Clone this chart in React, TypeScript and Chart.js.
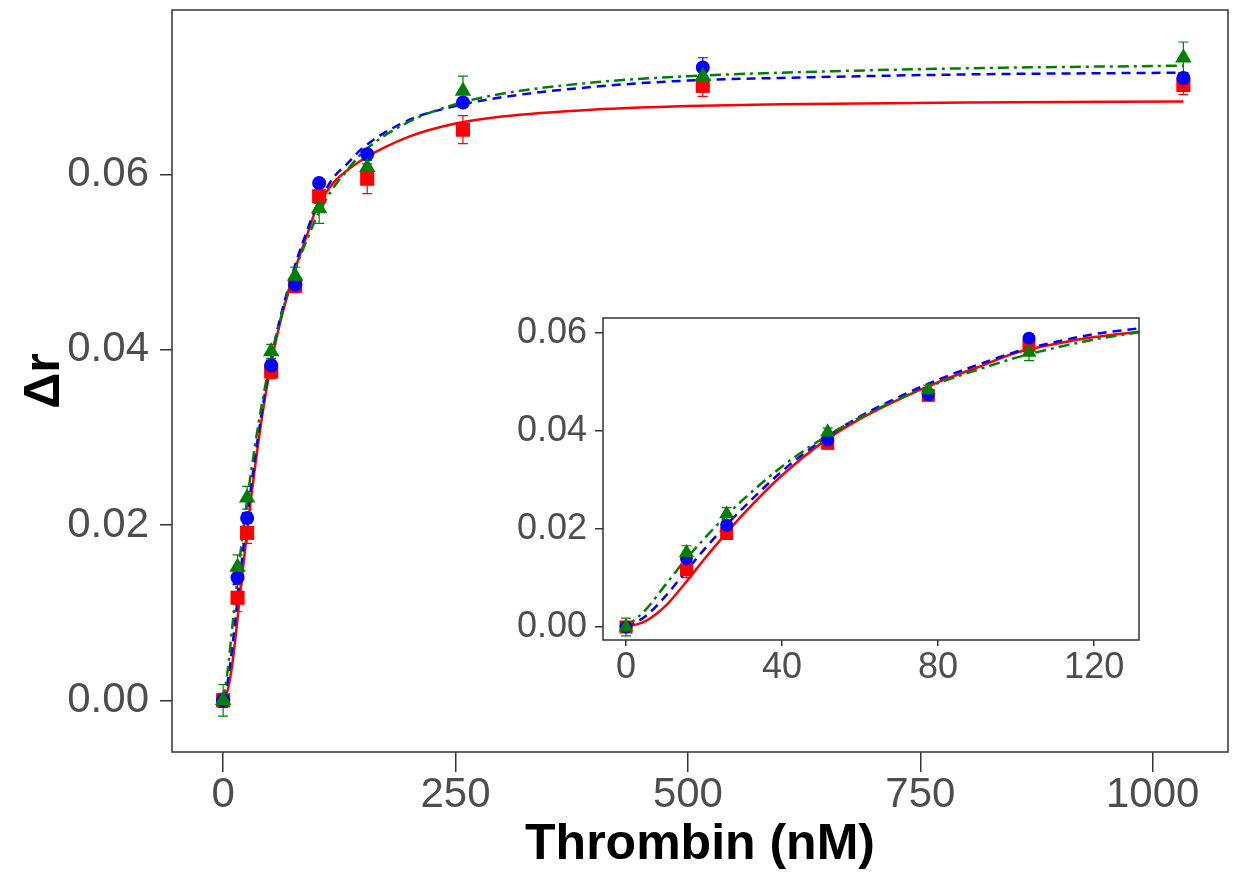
import React, { useEffect, useRef } from "react";
import { Chart, registerables } from "chart.js";

Chart.register(...registerables);

// ---- data ----
const thrombin = [0, 15.5, 25.8, 51.7, 77.5, 103.3, 155, 258, 516, 1033];
const redY = [0, 0.0117, 0.0191, 0.0375, 0.0473, 0.0575, 0.0595, 0.0651, 0.0701, 0.0702];
const redErr = [0.0005, 0.0016, 0.0012, 0.0008, 0.0008, 0.0008, 0.0017, 0.0016, 0.0012, 0.0011];
const blueY = [0, 0.014, 0.0208, 0.0382, 0.0474, 0.059, 0.0623, 0.0682, 0.0722, 0.071];
const blueErr = [0.0008, 0.0008, 0.0006, 0.0006, 0.0006, 0.0005, 0.0004, 0.0005, 0.0011, 0.0006];
const greenY = [0, 0.0152, 0.0231, 0.0398, 0.0484, 0.0561, 0.0608, 0.0695, 0.0712, 0.0733];
const greenErr = [0.0018, 0.0014, 0.0013, 0.0008, 0.001, 0.0017, 0.0008, 0.0017, 0.0008, 0.0018];

const fitX = [0, 5, 10, 15, 20, 25, 30, 40, 50, 60, 70, 80, 90, 100, 110, 120, 131.5, 150, 200, 250, 300, 400, 500, 600, 800, 1033];
const redFit = [0, 0.0012, 0.0042, 0.0088, 0.0138, 0.0185, 0.023, 0.031, 0.0375, 0.0425, 0.0465, 0.05, 0.053, 0.056, 0.0578, 0.0592, 0.0603, 0.0617, 0.0643, 0.0658, 0.0666, 0.0674, 0.0678, 0.068, 0.0682, 0.0683];
const blueFit = [0, 0.0022, 0.0062, 0.011, 0.0158, 0.0202, 0.0243, 0.0318, 0.038, 0.043, 0.047, 0.0505, 0.0535, 0.0562, 0.0582, 0.0598, 0.061, 0.063, 0.0662, 0.0678, 0.0688, 0.07, 0.0707, 0.071, 0.0714, 0.0716];
const greenFit = [0, 0.0035, 0.0085, 0.0135, 0.018, 0.0222, 0.026, 0.0328, 0.0383, 0.0428, 0.0466, 0.0498, 0.0525, 0.055, 0.057, 0.0587, 0.0602, 0.0625, 0.066, 0.068, 0.0692, 0.0705, 0.0712, 0.0716, 0.0721, 0.0724];

const mainXTicks = [0, 250, 500, 750, 1000];
const mainYTicks = [0, 0.02, 0.04, 0.06];
const insetXTicks = [0, 40, 80, 120];
const insetYTicks = [0, 0.02, 0.04, 0.06];
const insetXMax = 131.5;

const RED = "#ff0000";
const BLUE = "#0000ff";
const GREEN = "#008000";
const FONT = "'Liberation Sans', Arial, sans-serif";

// ---- plugins ----
const boxPlugin = {
  id: "box",
  afterDatasetsDraw(chart: any) {
    const { ctx, chartArea: a } = chart;
    ctx.save();
    ctx.strokeStyle = "#333333";
    ctx.lineWidth = 1.5;
    ctx.strokeRect(a.left, a.top, a.right - a.left, a.bottom - a.top);
    ctx.restore();
  },
};

const errorBarPlugin = {
  id: "errbars",
  beforeDatasetsDraw(chart: any) {
    const { ctx } = chart;
    const ys = chart.scales.y;
    chart.data.datasets.forEach((ds: any, i: number) => {
      if (!ds.errs) return;
      const meta = chart.getDatasetMeta(i);
      ctx.save();
      ctx.strokeStyle = ds.borderColor;
      ctx.lineWidth = 1.2;
      meta.data.forEach((el: any, j: number) => {
        const v = ds.data[j].y;
        const e = ds.errs[j];
        const x = el.x;
        const y1 = ys.getPixelForValue(v - e);
        const y2 = ys.getPixelForValue(v + e);
        const cw = ds.capW;
        ctx.beginPath();
        ctx.moveTo(x, y1);
        ctx.lineTo(x, y2);
        ctx.moveTo(x - cw, y1);
        ctx.lineTo(x + cw, y1);
        ctx.moveTo(x - cw, y2);
        ctx.lineTo(x + cw, y2);
        ctx.stroke();
      });
      ctx.restore();
    });
  },
};

function pts(xs: number[], ys: number[], maxX = Infinity) {
  const out: { x: number; y: number }[] = [];
  xs.forEach((x, i) => {
    if (x <= maxX) out.push({ x, y: ys[i] });
  });
  return out;
}

function zeroPad(ax: any) {
  ax.paddingTop = 0;
  ax.paddingBottom = 0;
  ax.paddingLeft = 0;
  ax.paddingRight = 0;
}

function buildConfig(p: any) {
  const ms = p.markerScale;
  const curve = (ys: number[], color: string, dash: number[], order: number) => ({
    type: "line",
    data: pts(fitX, ys, p.xMax),
    borderColor: color,
    borderWidth: 2.5,
    borderDash: dash,
    pointRadius: 0,
    showLine: true,
    fill: false,
    cubicInterpolationMode: "monotone",
    order,
  });
  const points = (ys: number[], errs: number[], color: string, style: string, r: number, order: number) => ({
    type: "scatter",
    data: pts(thrombin, ys, p.xMax),
    errs: thrombin.filter((x) => x <= p.xMax).map((_, i) => errs[i]),
    capW: p.capW,
    borderColor: color,
    backgroundColor: color,
    pointStyle: style,
    pointRadius: r * ms,
    pointBorderWidth: 0,
    showLine: false,
    order,
  });
  return {
    type: "scatter",
    data: {
      datasets: [
        points(greenY, greenErr, GREEN, "triangle", 9.5, 0),
        points(blueY, blueErr, BLUE, "circle", 7, 1),
        points(redY, redErr, RED, "rect", 10, 2),
        curve(greenFit, GREEN, [11, 5, 3, 5], 3),
        curve(blueFit, BLUE, [9, 6], 4),
        curve(redFit, RED, [], 5),
      ],
    },
    options: {
      animation: false,
      responsive: false,
      devicePixelRatio: 1,
      events: [],
      layout: { padding: p.padding },
      plugins: { legend: { display: false }, tooltip: { enabled: false } },
      scales: {
        x: {
          type: "linear",
          min: p.xMin,
          max: p.xMax,
          afterBuildTicks: (ax: any) => {
            ax.ticks = p.xTicks.map((v: number) => ({ value: v }));
          },
          afterFit: (ax: any) => {
            ax.height = p.xHeight;
            zeroPad(ax);
          },
          grid: {
            drawOnChartArea: false,
            drawTicks: true,
            tickLength: p.xTickLen,
            color: "#333333",
            lineWidth: 1.5,
          },
          border: { display: false },
          ticks: {
            color: "#4d4d4d",
            font: { family: FONT, size: p.tickSize, lineHeight: 1.2 },
            padding: p.xTickPad,
            maxRotation: 0,
            autoSkip: false,
            callback: (v: any) => String(v),
          },
          title: p.xTitle
            ? {
                display: true,
                text: p.xTitle,
                color: "#000000",
                font: { family: FONT, size: 50, weight: "bold", lineHeight: 1 },
                padding: { top: 0, bottom: 5 },
              }
            : { display: false },
        },
        y: {
          type: "linear",
          min: p.yMin,
          max: p.yMax,
          afterBuildTicks: (ax: any) => {
            ax.ticks = p.yTicks.map((v: number) => ({ value: v }));
          },
          afterFit: (ax: any) => {
            ax.width = p.yWidth;
            zeroPad(ax);
          },
          grid: {
            drawOnChartArea: false,
            drawTicks: true,
            tickLength: p.yTickLen,
            color: "#333333",
            lineWidth: 1.5,
          },
          border: { display: false },
          ticks: {
            color: "#4d4d4d",
            font: { family: FONT, size: p.tickSize, lineHeight: 1.2 },
            padding: p.yTickPad,
            autoSkip: false,
            callback: (v: any) => Number(v).toFixed(2),
          },
          title: p.yTitle
            ? {
                display: true,
                text: p.yTitle,
                color: "#000000",
                font: { family: FONT, size: 50, weight: "bold", lineHeight: 1 },
                padding: { top: 20, bottom: 0 },
              }
            : { display: false },
        },
      },
    },
    plugins: [errorBarPlugin, boxPlugin],
  };
}

export default function App() {
  const mainRef = useRef<HTMLCanvasElement | null>(null);
  const insetRef = useRef<HTMLCanvasElement | null>(null);

  useEffect(() => {
    const main = new Chart(
      mainRef.current as HTMLCanvasElement,
      buildConfig({
        xMin: -55,
        xMax: 1081,
        yMin: -0.0059,
        yMax: 0.07875,
        xTicks: mainXTicks,
        yTicks: mainYTicks,
        padding: { top: 7, right: 10, left: 0, bottom: 0 },
        xHeight: 123,
        yWidth: 172,
        xTickLen: 20,
        yTickLen: 12,
        xTickPad: -2,
        yTickPad: 11,
        tickSize: 42,
        markerScale: 1,
        capW: 5,
        xTitle: "Thrombin (nM)",
        yTitle: "Δr",
      }) as any
    );
    const inset = new Chart(
      insetRef.current as HTMLCanvasElement,
      buildConfig({
        xMin: -5.9,
        xMax: insetXMax,
        yMin: -0.00265,
        yMax: 0.0631,
        xTicks: insetXTicks,
        yTicks: insetYTicks,
        padding: { top: 18, right: 11, left: 0, bottom: 0 },
        xHeight: 60,
        yWidth: 103,
        xTickLen: 6,
        yTickLen: 8,
        xTickPad: 0,
        yTickPad: 8,
        tickSize: 36,
        markerScale: 0.92,
        capW: 5,
        xTitle: "",
        yTitle: "",
      }) as any
    );
    return () => {
      main.destroy();
      inset.destroy();
    };
  }, []);

  return (
    <div
      style={{
        position: "fixed",
        left: 0,
        top: 0,
        width: 1238,
        height: 875,
        background: "#ffffff",
      }}
    >
      <canvas
        ref={mainRef}
        width={1238}
        height={875}
        style={{ position: "absolute", left: 0, top: 0, width: 1238, height: 875 }}
      />
      <canvas
        ref={insetRef}
        width={650}
        height={400}
        style={{ position: "absolute", left: 500, top: 300, width: 650, height: 400 }}
      />
    </div>
  );
}
